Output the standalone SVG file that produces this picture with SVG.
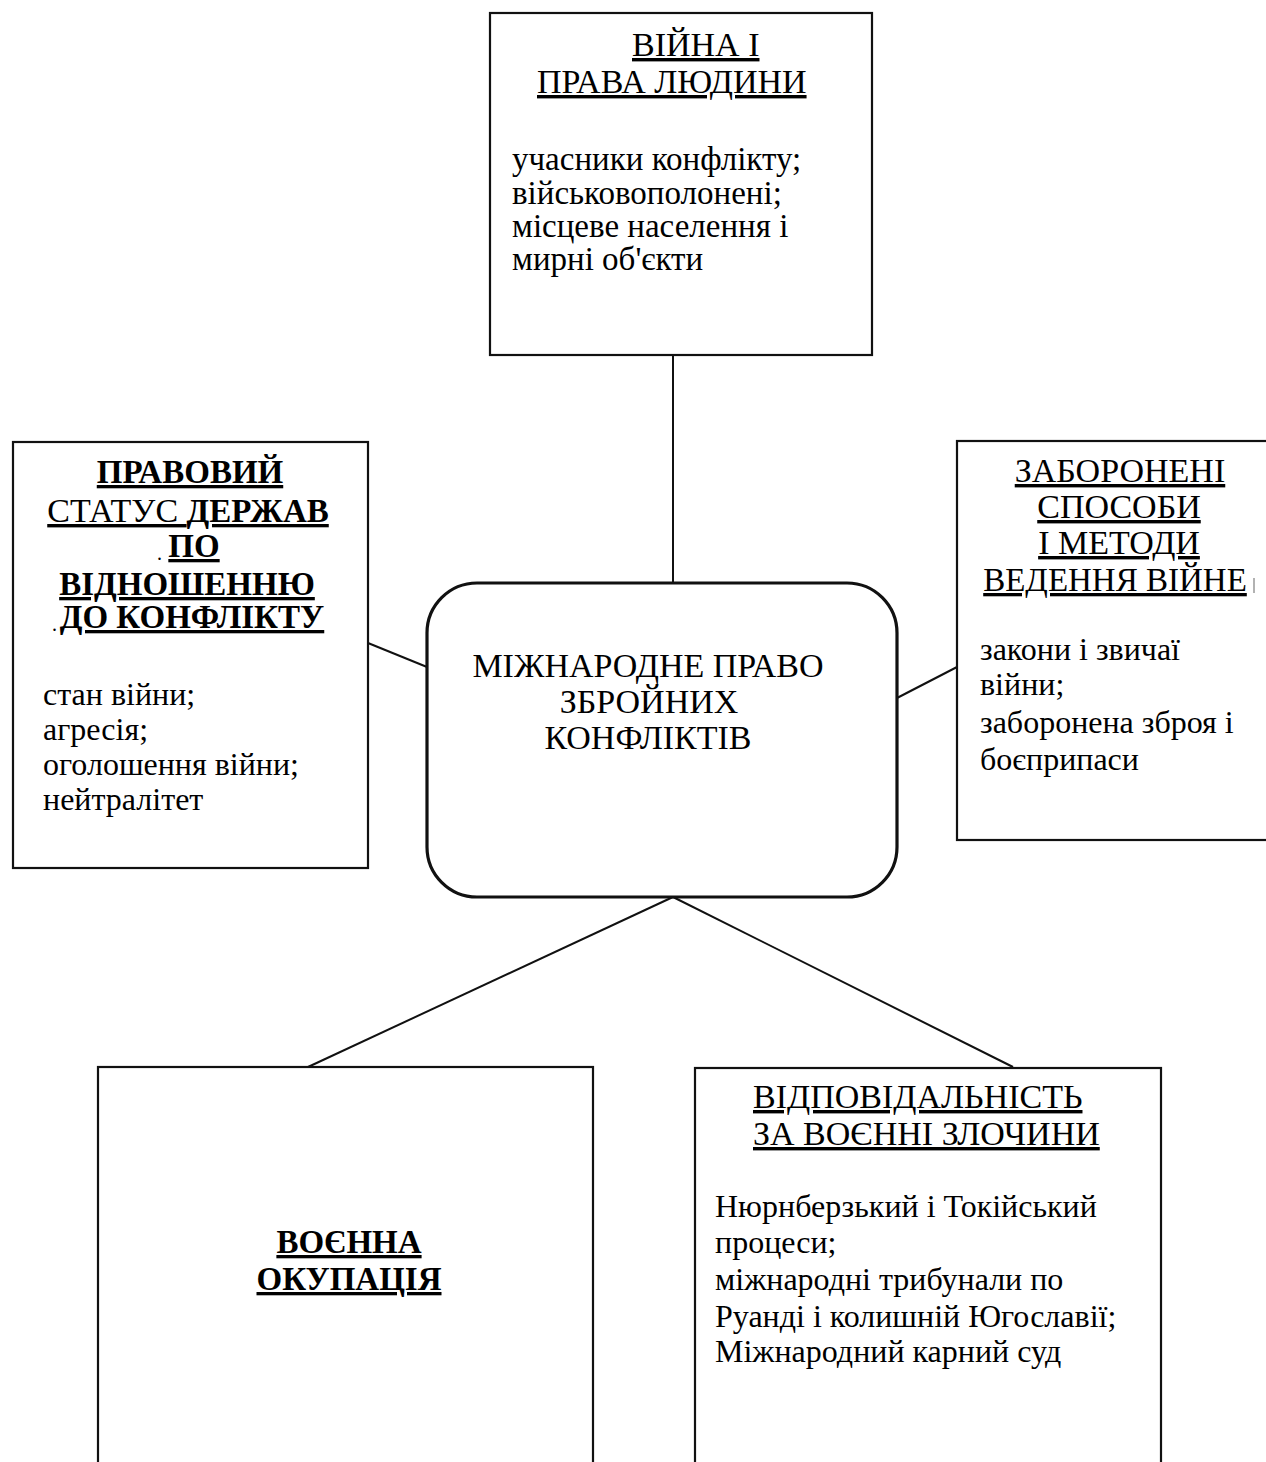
<svg xmlns="http://www.w3.org/2000/svg" width="1266" height="1462" viewBox="0 0 1266 1462">
<style>
  .box { fill: #fff; stroke: #111; stroke-width: 2.2; }
  .core { fill: #fff; stroke: #111; stroke-width: 3.2; }
  .conn line { stroke: #111; stroke-width: 2; }
  text { font-family: "Liberation Serif", "Times New Roman", serif; font-size: 32px; fill: #000; }
  .t { font-size: 34px; }
  .u { text-decoration: underline; }
  .b { font-weight: bold; font-size: 33px; }
  .mid { text-anchor: middle; }
</style>
<rect width="1266" height="1462" fill="#fff"/>
<g id="connectors" class="conn">
  <line x1="673" y1="355" x2="673" y2="583"/>
  <line x1="368" y1="643" x2="427" y2="667"/>
  <line x1="897" y1="698" x2="957" y2="667"/>
  <line x1="673" y1="897" x2="308" y2="1067"/>
  <line x1="673" y1="897" x2="1013" y2="1067"/>
</g>
<g id="node-war-human-rights">
  <rect class="box" x="490" y="13" width="382" height="342"/>
  <text class="t u" x="632" y="56">ВІЙНА І</text>
  <text class="t u" x="537" y="93">ПРАВА ЛЮДИНИ</text>
  <text x="512" y="170" style="font-size:33px">учасники конфлікту;</text>
  <text x="512" y="204" style="font-size:33px">військовополонені;</text>
  <text x="512" y="237" style="font-size:33px">місцеве населення і</text>
  <text x="512" y="270" style="font-size:33px">мирні об'єкти</text>
</g>
<g id="node-legal-status">
  <rect class="box" x="13" y="442" width="355" height="426"/>
  <text class="u b mid" x="190" y="483">ПРАВОВИЙ</text>
  <text class="t u mid" x="188" y="522">СТАТУС <tspan class="b">ДЕРЖАВ</tspan></text>
  <text x="157" y="560" style="font-size:20px">.</text>
  <text class="u b mid" x="194" y="557">ПО</text>
  <text class="u b mid" x="187" y="595">ВІДНОШЕННЮ</text>
  <text x="52" y="631" style="font-size:20px">.</text>
  <text class="u b mid" x="192" y="628">ДО КОНФЛІКТУ</text>
  <text x="43" y="705">стан війни;</text>
  <text x="43" y="740">агресія;</text>
  <text x="43" y="775">оголошення війни;</text>
  <text x="43" y="810">нейтралітет</text>
</g>
<g id="node-core">
  <rect class="core" x="427" y="583" width="470" height="314" rx="50" ry="50"/>
  <text class="t mid" x="648" y="677">МІЖНАРОДНЕ ПРАВО</text>
  <text class="t mid" x="649" y="713">ЗБРОЙНИХ</text>
  <text class="t mid" x="648" y="749">КОНФЛІКТІВ</text>
</g>
<g id="node-prohibited">
  <rect class="box" x="957" y="441" width="330" height="399"/>
  <text class="t u mid" x="1120" y="482">ЗАБОРОНЕНІ</text>
  <text class="t u mid" x="1119" y="518">СПОСОБИ</text>
  <text class="t u mid" x="1119" y="554">І МЕТОДИ</text>
  <text class="u mid" x="1115" y="591" style="font-size:33px">ВЕДЕННЯ ВІЙНЕ</text>
  <line x1="1254" y1="578" x2="1254" y2="593" stroke="#999" stroke-width="1.5"/>
  <text x="980" y="660">закони і звичаї</text>
  <text x="980" y="695">війни;</text>
  <text x="980" y="733">заборонена зброя і</text>
  <text x="980" y="770">боєприпаси</text>
</g>
<g id="node-occupation">
  <rect class="box" x="98" y="1067" width="495" height="420"/>
  <text class="u b mid" x="349" y="1253">ВОЄННА</text>
  <text class="u b mid" x="349" y="1290">ОКУПАЦІЯ</text>
</g>
<g id="node-responsibility">
  <rect class="box" x="695" y="1068" width="466" height="420"/>
  <text class="t u" x="753" y="1108">ВІДПОВІДАЛЬНІСТЬ</text>
  <text class="t u" x="753" y="1145">ЗА ВОЄННІ ЗЛОЧИНИ</text>
  <text x="715" y="1217">Нюрнберзький і Токійський</text>
  <text x="715" y="1253">процеси;</text>
  <text x="715" y="1290">міжнародні трибунали по</text>
  <text x="715" y="1327">Руанді і колишній Югославії;</text>
  <text x="715" y="1362">Міжнародний карний суд</text>
</g>
</svg>
